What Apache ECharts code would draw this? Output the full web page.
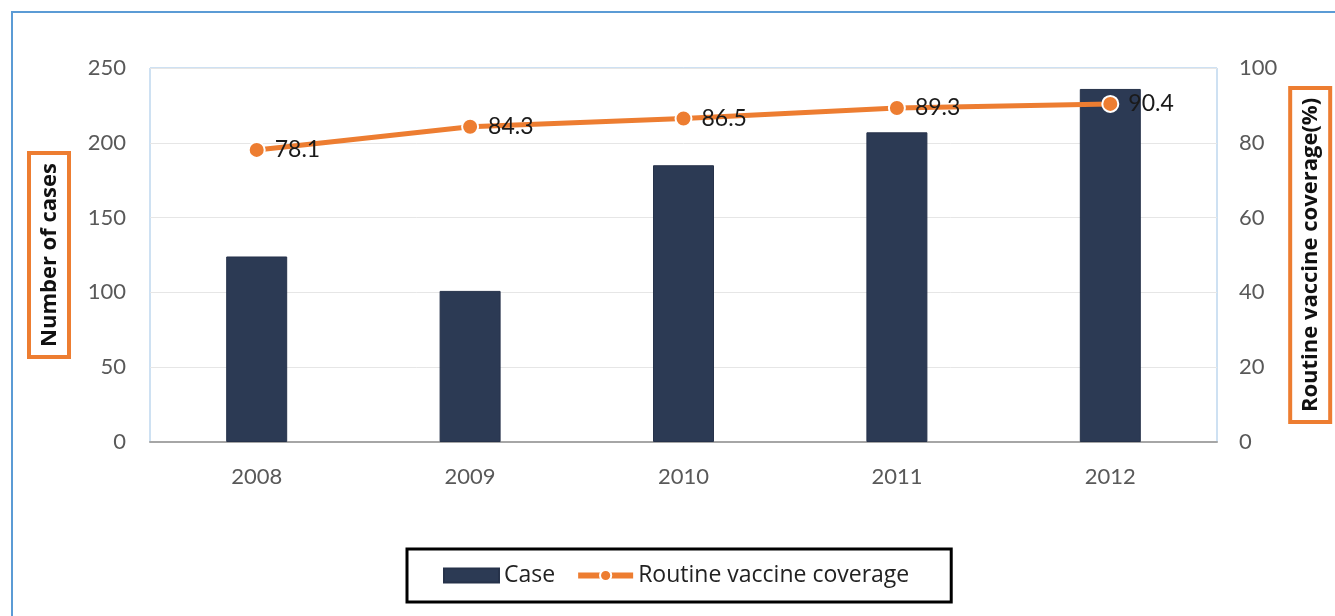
<!DOCTYPE html>
<html>
<head>
<meta charset="utf-8">
<script src="https://cdn.jsdelivr.net/npm/echarts@6/dist/echarts.min.js"></script>
<style>
  html, body { margin: 0; padding: 0; background: #fff; }
  #chart { width: 1335px; height: 616px; }
</style>
</head>
<body>
<div id="chart"></div>
<script>
// Yearly case counts against routine vaccine coverage
const years = ['2008', '2009', '2010', '2011', '2012'];
const cases = [124, 101, 185, 207, 236];
const coverage = [78.1, 84.3, 86.5, 89.3, 90.4];

const FONT = 'Lato, "Liberation Sans", sans-serif';
const WIDE = '"Open Sans", Lato, sans-serif';
const ORANGE = '#ED7D31';
const NAVY = '#2C3A54';
const TICK = '#595959';

const chart = echarts.init(document.getElementById('chart'), null, { renderer: 'canvas' });

const axisName = {
  fontFamily: WIDE, fontSize: 22, fontWeight: 'bold', color: '#111',
  borderColor: ORANGE, borderWidth: 4, padding: [8, 8, 6, 8],
  backgroundColor: '#fff'
};

chart.setOption({
  backgroundColor: '#ffffff',
  animation: false,
  graphic: [
    {
      type: 'rect',
      shape: { x: 12, y: 12, width: 1340, height: 640 },
      style: { fill: 'none', stroke: '#5B9BD5', lineWidth: 2 },
      silent: true
    }
  ],
  grid: {
    left: 150, right: 118, top: 68, bottom: 174,
    outerBoundsMode: 'none',
    containLabel: false,
    show: true,
    borderColor: '#9DC3E6',
    borderWidth: 1,
    backgroundColor: 'transparent'
  },
  legend: {
    left: 407, top: 549,
    padding: [15, 42, 15, 36],
    itemGap: 20,
    itemWidth: 55,
    itemHeight: 14,
    borderColor: '#000',
    borderWidth: 3,
    textStyle: { fontFamily: WIDE, fontSize: 23, color: '#222' },
    data: [
      { name: 'Case', icon: 'rect' },
      { name: 'Routine vaccine coverage', lineStyle: { width: 6 } }
    ]
  },
  xAxis: {
    type: 'category',
    data: years,
    axisTick: { show: false },
    axisLine: { lineStyle: { color: '#A6A6A6', width: 2 } },
    axisLabel: { fontFamily: FONT, fontSize: 22, color: TICK, margin: 24 }
  },
  yAxis: [
    {
      type: 'value',
      min: 0, max: 250, interval: 50,
      name: 'Number of cases',
      nameLocation: 'middle',
      nameRotate: 90,
      nameGap: 83,
      nameTextStyle: axisName,
      axisLine: { show: false },
      axisTick: { show: false },
      axisLabel: { fontFamily: FONT, fontSize: 22, color: TICK, margin: 24 },
      splitLine: { lineStyle: { color: '#E6E6E6', width: 1 } }
    },
    {
      type: 'value',
      min: 0, max: 100, interval: 20,
      name: 'Routine vaccine coverage(%)',
      nameLocation: 'middle',
      nameRotate: 90,
      nameGap: 57,
      nameTextStyle: axisName,
      axisLine: { show: false },
      axisTick: { show: false },
      axisLabel: { fontFamily: FONT, fontSize: 22, color: TICK, margin: 22 },
      splitLine: { show: false }
    }
  ],
  series: [
    {
      name: 'Case',
      type: 'bar',
      yAxisIndex: 0,
      data: cases,
      barWidth: 61,
      itemStyle: { color: NAVY, borderColor: '#26324A', borderWidth: 1 }
    },
    {
      name: 'Routine vaccine coverage',
      type: 'line',
      yAxisIndex: 1,
      data: coverage,
      symbol: 'circle',
      symbolSize: 16,
      lineStyle: { color: ORANGE, width: 5 },
      itemStyle: { color: ORANGE, borderColor: '#fff', borderWidth: 2 },
      label: {
        show: true,
        position: 'right',
        distance: 9,
        fontFamily: FONT, fontSize: 23, color: '#1a1a1a',
        formatter: p => p.value.toFixed(1)
      },
      z: 5
    }
  ]
});
</script>
</body>
</html>
